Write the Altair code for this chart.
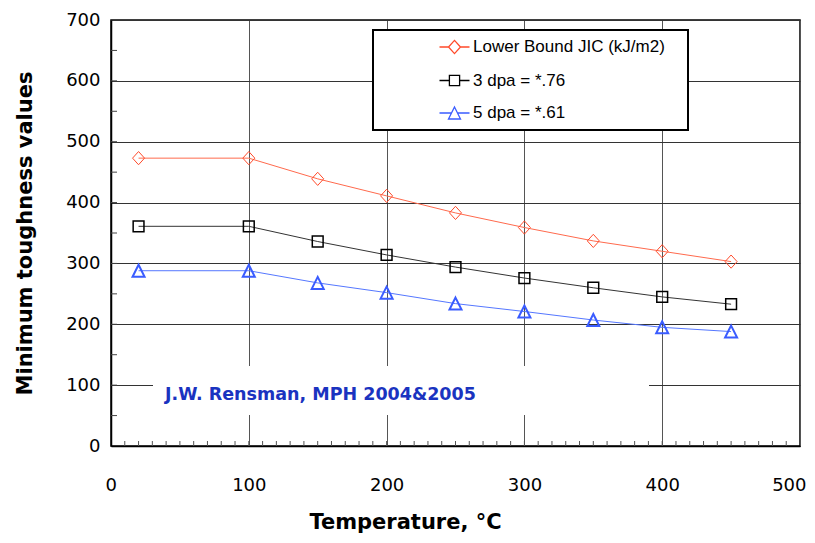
import altair as alt
import pandas as pd

# ---------------- data ----------------
temps = [20, 100, 150, 200, 250, 300, 350, 400, 450]
lower_bound = [473, 473, 439, 411, 383, 359, 337, 320, 303]
dpa3 = [361, 361, 336, 314, 294, 276, 260, 245, 233]
dpa5 = [288, 288, 268, 252, 234, 221, 207, 195, 188]
series_names = ["Lower Bound JIC (kJ/m2)", "3 dpa = *.76", "5 dpa = *.61"]

x_ticks = [0, 100, 200, 300, 400, 500]
y_ticks = [0, 100, 200, 300, 400, 500, 600, 700]
x_minor = list(range(10, 500, 10))
y_minor = list(range(50, 700, 50))

note_text = "J.W. Rensman, MPH 2004&2005"
x_title = "Temperature, °C"
y_title = "Minimum toughness values"

rows = []
for name, vals in zip(series_names, [lower_bound, dpa3, dpa5]):
    for t, v in zip(temps, vals):
        rows.append({"series": name, "temp": t, "value": v})
df = pd.DataFrame(rows)

# ---------------- styles ----------------
W, H = 689, 426
marker_colors = ["#ff4a2a", "#000000", "#3a5cff"]
line_colors = ["#ff6a4d", "#333333", "#5577ff"]
shape_paths = [
    "M0,-1.1L1,0L0,1.1L-1,0Z",
    "M-0.9,-0.9L0.9,-0.9L0.9,0.9L-0.9,0.9Z",
    "M0,-1L1,1L-1,1Z",
]
legend_paths = [
    "M-2.5,0L-1,0M1,0L2.5,0M0,-1.1L1,0L0,1.1L-1,0Z",
    "M-2.5,0L-0.85,0M0.85,0L2.5,0M-0.85,-0.85L0.85,-0.85L0.85,0.85L-0.85,0.85Z",
    "M-2.5,0L-0.5,0M0.5,0L2.5,0M0,-1L1,1L-1,1Z",
]

x_scale = alt.Scale(domain=[0, 500], nice=False, zero=False)
y_scale = alt.Scale(domain=[0, 700], nice=False)

x_axis = alt.Axis(
    values=x_ticks, format="d", title=x_title, grid=True, gridColor="#555555",
    gridWidth=1, tickSize=0, labelPadding=39, labelBaseline="middle",
    labelFont="DejaVu Sans", labelFontSize=18, labelColor="black",
    labelFlush=True, labelFlushOffset=6, labelOverlap=False,
    domainColor="black", domainWidth=1.5,
    titleFont="DejaVu Sans", titleFontWeight="bold", titleFontSize=21,
    titleColor="black", titleX=294, titleY=82, titleAlign="center",
    titleBaseline="alphabetic", titleAnchor="start",
)
y_axis = alt.Axis(
    values=y_ticks, format="d", title=y_title, grid=True, gridColor="#333333",
    gridWidth=1, tickSize=0, labelPadding=11,
    labelFont="DejaVu Sans", labelFontSize=18, labelColor="black",
    labelOverlap=False,
    domainColor="black", domainWidth=1.5,
    titleFont="DejaVu Sans", titleFontWeight="bold", titleFontSize=21,
    titleColor="black", titleX=-80, titleY=213, titleAngle=270,
    titleAlign="center", titleBaseline="alphabetic", titleAnchor="start",
)

X = alt.X("temp:Q", scale=x_scale, axis=x_axis)
Y = alt.Y("value:Q", scale=y_scale, axis=y_axis)

base = alt.Chart(df)
one_row = pd.DataFrame({"t": [note_text]})

# white box behind the annotation (covers gridlines)
note_box = alt.Chart(one_row).mark_rect(color="white").encode(
    x=alt.value(42), x2=alt.value(538), y=alt.value(346), y2=alt.value(395)
)

# framed box behind the legend
legend_box = alt.Chart(one_row).mark_rect(
    fill="white", stroke="black", strokeWidth=2
).encode(x=alt.value(262), x2=alt.value(577), y=alt.value(10), y2=alt.value(110))

lines = base.mark_line(strokeWidth=1).encode(
    x=X, y=Y,
    color=alt.Color("series:N", scale=alt.Scale(domain=series_names, range=line_colors), legend=None),
)

points = base.mark_point(filled=False, opacity=1).encode(
    x=X, y=Y,
    color=alt.Color("series:N", scale=alt.Scale(domain=series_names, range=marker_colors), legend=None),
    shape=alt.Shape("series:N", scale=alt.Scale(domain=series_names, range=shape_paths), legend=None),
    strokeWidth=alt.StrokeWidth("series:N", scale=alt.Scale(domain=series_names, range=[1, 2, 1]), legend=None),
    size=alt.value(144),
)

note = alt.Chart(one_row).mark_text(
    align="left", baseline="middle", font="DejaVu Sans", fontWeight="bold",
    fontSize=17.5, color="#1a33c0",
).encode(x=alt.value(54), y=alt.value(375), text="t:N")

y_minor_ticks = alt.Chart(pd.DataFrame({"value": y_minor})).mark_rule(
    color="#444444", strokeWidth=1
).encode(y=Y, x=alt.value(0), x2=alt.value(6))

x_minor_ticks = alt.Chart(pd.DataFrame({"temp": x_minor})).mark_rule(
    color="#555555", strokeWidth=1
).encode(x=X, y=alt.value(H), y2=alt.value(H - 5))

leg = alt.Legend(
    orient="none", legendX=262, legendY=10, title=None, padding=8.5,
    rowPadding=14.5, symbolSize=144, symbolOffset=64.5, labelOffset=10,
    labelFont="Liberation Sans", labelFontSize=17, labelColor="black",
    labelLimit=400, symbolStrokeWidth=1.3,
)
legend_layer = base.mark_point(filled=False, opacity=1).encode(
    color=alt.Color("series:N", scale=alt.Scale(domain=series_names, range=marker_colors), legend=leg),
    shape=alt.Shape("series:N", scale=alt.Scale(domain=series_names, range=legend_paths), legend=leg),
).transform_filter("false")

chart = alt.layer(
    note_box, legend_box, lines, points, note, y_minor_ticks, x_minor_ticks, legend_layer
).resolve_scale(
    color="independent", shape="independent"
).properties(
    width=W, height=H,
    autosize=alt.AutoSizeParams(type="none"),
    padding={"left": 103, "top": 12, "right": 7, "bottom": 89},
).configure_view(
    stroke="black", strokeWidth=1.5
)

chart.save("out.html", embed_options={"renderer": "svg", "actions": False})
